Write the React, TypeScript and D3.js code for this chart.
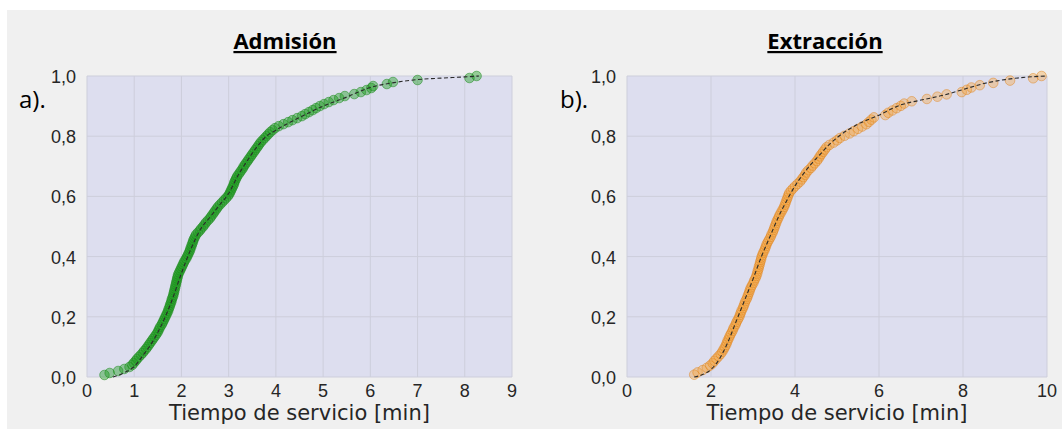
import * as d3 from 'd3';
import React, { useEffect, useRef } from 'react';

// Admisión: sorted service times (min), one per observation
const admisionTimes = [
  0.37, 0.48, 0.66, 0.79, 0.90, 0.96, 0.99, 1.03, 1.06, 1.10,
  1.14, 1.18, 1.21, 1.25, 1.28, 1.31, 1.34, 1.37, 1.40, 1.43,
  1.46, 1.49, 1.51, 1.53, 1.55, 1.58, 1.60, 1.62, 1.64, 1.66,
  1.68, 1.70, 1.72, 1.73, 1.75, 1.76, 1.78, 1.79, 1.80, 1.82,
  1.83, 1.84, 1.85, 1.86, 1.87, 1.88, 1.89, 1.90, 1.91, 1.92,
  1.93, 1.95, 1.97, 1.99, 2.01, 2.03, 2.05, 2.07, 2.10, 2.12,
  2.14, 2.16, 2.18, 2.19, 2.21, 2.22, 2.24, 2.25, 2.27, 2.29,
  2.31, 2.35, 2.39, 2.42, 2.46, 2.49, 2.52, 2.56, 2.60, 2.63,
  2.66, 2.69, 2.72, 2.75, 2.78, 2.82, 2.86, 2.90, 2.94, 2.98,
  3.01, 3.03, 3.05, 3.07, 3.09, 3.11, 3.12, 3.14, 3.16, 3.18,
  3.21, 3.24, 3.27, 3.30, 3.32, 3.35, 3.38, 3.41, 3.44, 3.47,
  3.50, 3.53, 3.56, 3.59, 3.62, 3.65, 3.68, 3.72, 3.76, 3.80,
  3.84, 3.88, 3.93, 3.98, 4.06, 4.16, 4.26, 4.35, 4.45, 4.55,
  4.62, 4.70, 4.78, 4.85, 4.93, 5.02, 5.12, 5.22, 5.34, 5.46,
  5.66, 5.80, 5.92, 6.02, 6.06, 6.35, 6.48, 7.00, 8.10, 8.25,
];
// fitted CDF (dashed) for Admisión
const admisionFitX = [0.55, 0.8, 1.0, 1.2, 1.4, 1.6, 1.8, 2.0, 2.2, 2.4, 2.6, 2.8, 3.0, 3.2, 3.4, 3.6, 3.8, 4.0, 4.5, 5.0, 5.5, 6.0, 6.5, 7.0, 7.5, 8.0, 8.3];
const admisionFitY = [0, 0.015, 0.035, 0.075, 0.12, 0.18, 0.255, 0.345, 0.425, 0.49, 0.53, 0.57, 0.61, 0.67, 0.72, 0.765, 0.80, 0.82, 0.862, 0.90, 0.93, 0.962, 0.978, 0.988, 0.993, 0.997, 1.0];

// Extracción: sorted service times (min)
const extraccionTimes = [
  1.60, 1.68, 1.80, 1.90, 1.98, 2.04, 2.08, 2.13, 2.18, 2.23,
  2.27, 2.30, 2.33, 2.36, 2.38, 2.40, 2.43, 2.45, 2.48, 2.51,
  2.53, 2.56, 2.59, 2.61, 2.64, 2.67, 2.69, 2.71, 2.73, 2.76,
  2.78, 2.80, 2.82, 2.85, 2.87, 2.89, 2.91, 2.93, 2.95, 2.98,
  3.01, 3.03, 3.06, 3.08, 3.10, 3.11, 3.13, 3.14, 3.16, 3.17,
  3.19, 3.20, 3.22, 3.24, 3.27, 3.29, 3.31, 3.33, 3.36, 3.39,
  3.42, 3.44, 3.47, 3.49, 3.51, 3.53, 3.55, 3.57, 3.60, 3.62,
  3.65, 3.68, 3.71, 3.74, 3.76, 3.78, 3.80, 3.82, 3.84, 3.86,
  3.90, 3.95, 4.00, 4.06, 4.12, 4.16, 4.20, 4.24, 4.27, 4.32,
  4.38, 4.42, 4.47, 4.52, 4.56, 4.59, 4.63, 4.67, 4.71, 4.75,
  4.82, 4.92, 5.00, 5.07, 5.18, 5.30, 5.40, 5.50, 5.60, 5.70,
  5.76, 5.82, 5.88, 6.15, 6.22, 6.32, 6.42, 6.52, 6.60, 6.78,
  7.14, 7.39, 7.61, 7.97, 8.09, 8.20, 8.40, 8.72, 9.12, 9.67,
  9.87,
];
const extraccionFitX = [1.6, 1.8, 2.0, 2.2, 2.4, 2.6, 2.8, 3.0, 3.2, 3.4, 3.6, 3.8, 4.0, 4.2, 4.4, 4.6, 4.8, 5.0, 5.5, 6.0, 6.5, 7.0, 7.5, 8.0, 8.5, 9.0, 9.5, 10.0];
const extraccionFitY = [0, 0.008, 0.025, 0.06, 0.115, 0.185, 0.255, 0.325, 0.4, 0.465, 0.53, 0.585, 0.635, 0.675, 0.71, 0.74, 0.77, 0.795, 0.84, 0.87, 0.903, 0.92, 0.935, 0.955, 0.975, 0.988, 0.996, 1.0];

const admisionTicks = [0, 1, 2, 3, 4, 5, 6, 7, 8, 9];
const extraccionTicks = [0, 2, 4, 6, 8, 10];
const yTicks = [0, 0.2, 0.4, 0.6, 0.8, 1.0];

const fmt = (v) => d3.format('.1f')(v).replace('.', ',');

export default function App() {
  const svgRef = useRef(null);

  useEffect(() => {
    const svg = d3.select(svgRef.current);
    svg.selectAll('*').remove();

    svg.append('rect').attr('x', 7).attr('y', 10).attr('width', 1055).attr('height', 419).attr('fill', '#f0f0f0');

    const panels = [
      { title: 'Admisión', tag: 'a).', left: 87, right: 512, titleX: 285, tagX: 19, domain: [0, 9], ticks: admisionTicks,
        times: admisionTimes, fitX: admisionFitX, fitY: admisionFitY, fill: '#1a9a1a', stroke: '#1a8a1a', fo: 0.42, so: 0.5 },
      { title: 'Extracción', tag: 'b).', left: 627, right: 1047, titleX: 825, tagX: 560, domain: [0, 10], ticks: extraccionTicks,
        times: extraccionTimes, fitX: extraccionFitX, fitY: extraccionFitY, fill: '#f5a030', stroke: '#e07f10', fo: 0.35, so: 0.45 },
    ];
    const top = 76, bottom = 377;

    panels.forEach((p) => {
      const x = d3.scaleLinear().domain(p.domain).range([p.left, p.right]);
      const y = d3.scaleLinear().domain([0, 1]).range([bottom, top]);
      const g = svg.append('g');

      g.append('rect').attr('x', p.left).attr('y', top).attr('width', p.right - p.left).attr('height', bottom - top).attr('fill', '#dddeef');

      // grid
      g.selectAll('.vg').data(p.ticks).join('line')
        .attr('x1', (d) => x(d)).attr('x2', (d) => x(d)).attr('y1', top).attr('y2', bottom)
        .attr('stroke', '#cdcedb').attr('stroke-width', 1);
      g.selectAll('.hg').data(yTicks).join('line')
        .attr('x1', p.left).attr('x2', p.right).attr('y1', (d) => y(d)).attr('y2', (d) => y(d))
        .attr('stroke', '#cdcedb').attr('stroke-width', 1);

      // tick labels
      g.selectAll('.xt').data(p.ticks).join('text')
        .attr('x', (d) => x(d)).attr('y', 397).attr('text-anchor', 'middle')
        .attr('font-family', 'Liberation Sans, Arial, sans-serif').attr('font-size', 18).attr('fill', '#262626')
        .text((d) => d);
      g.selectAll('.yt').data(yTicks).join('text')
        .attr('x', p.left - 11).attr('y', (d) => y(d) + 7).attr('text-anchor', 'end')
        .attr('font-family', 'Liberation Sans, Arial, sans-serif').attr('font-size', 18).attr('fill', '#262626')
        .text((d) => fmt(d));

      // ECDF points
      const n = p.times.length;
      g.selectAll('circle').data(p.times).join('circle')
        .attr('cx', (d) => x(d)).attr('cy', (d, i) => y((i + 1) / n)).attr('r', 4.8)
        .attr('fill', p.fill).attr('fill-opacity', p.fo)
        .attr('stroke', p.stroke).attr('stroke-opacity', p.so).attr('stroke-width', 1);

      // fitted curve
      const fitLine = d3.line().x((d) => x(d[0])).y((d) => y(d[1])).curve(d3.curveMonotoneX);
      g.append('path').datum(p.fitX.map((v, i) => [v, p.fitY[i]]))
        .attr('d', fitLine).attr('fill', 'none').attr('stroke', '#2a2a2a')
        .attr('stroke-width', 1.1).attr('stroke-dasharray', '4,2.5');

      // axis label
      g.append('text').attr('x', (p.left + p.right) / 2).attr('y', 420).attr('text-anchor', 'middle')
        .attr('font-family', 'DejaVu Sans, sans-serif').attr('font-size', 21).attr('fill', '#262626')
        .text('Tiempo de servicio [min]');

      // title
      g.append('text').attr('x', p.titleX).attr('y', 49).attr('text-anchor', 'middle')
        .attr('font-family', 'Open Sans, sans-serif').attr('font-weight', 700).attr('font-size', 22)
        .attr('text-decoration', 'underline').attr('fill', '#000')
        .text(p.title);

      g.append('text').attr('x', p.tagX).attr('y', 108)
        .attr('font-family', 'Open Sans, sans-serif').attr('font-size', 24).attr('fill', '#000')
        .text(p.tag);
    });
  }, []);

  return (
    <div style={{ position: 'absolute', left: 0, top: 0 }}>
      <svg ref={svgRef} width={1062} height={429} style={{ display: 'block', background: '#fff' }} />
    </div>
  );
}
